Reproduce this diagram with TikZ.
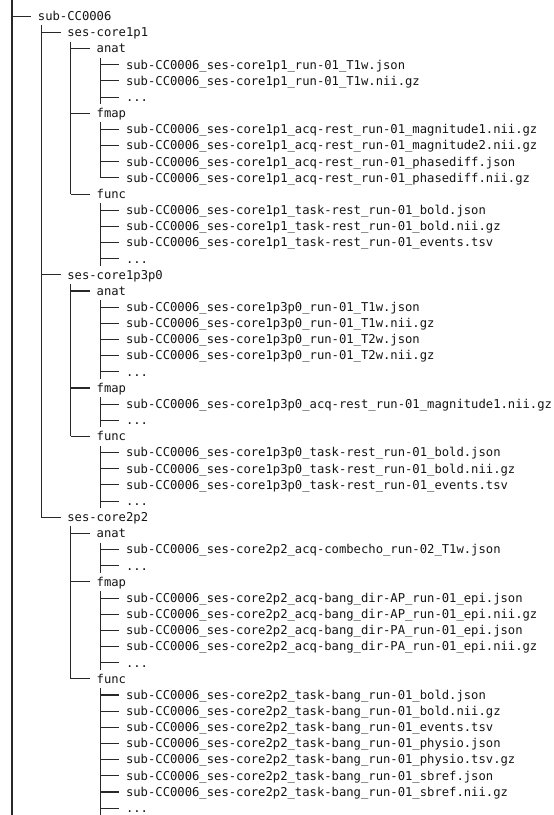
\documentclass[tikz,border=0pt]{standalone}
\usepackage{fontspec}
\setmonofont{DejaVu Sans Mono}
\usetikzlibrary{calc}
\definecolor{cLine}{RGB}{40,40,40}
\definecolor{cText}{RGB}{20,20,20}
\tikzset{
	entry/.style ={anchor=base west, inner sep=0pt, text=cText, font=\ttfamily\fontsize{9.15}{11}\selectfont},
	branch/.style={draw=cLine, line width=0.8pt},
}
% one line of the listing: name, depth, line number, text
\newcommand{\fentry}[4]{\node[entry] (#1) at ({37.7+29.36*#2},{20.6+16.16*(#3-1)}) {#4};}

\begin{document}
\begin{tikzpicture}[x=0.75pt, y=-0.75pt]
	\useasboundingbox (0,0) rectangle (554,815);
	\fentry{sub}{0}{1}{sub-CC0006}
	% ses-core1p1
	\fentry{s1}{1}{2}{ses-core1p1}
	\fentry{s1anat}{2}{3}{anat}
	\fentry{s1a1}{3}{4}{sub-CC0006\_ses-core1p1\_run-01\_T1w.json}
	\fentry{s1a2}{3}{5}{sub-CC0006\_ses-core1p1\_run-01\_T1w.nii.gz}
	\fentry{s1ad}{3}{6}{...}
	\fentry{s1fmap}{2}{7}{fmap}
	\fentry{s1f1}{3}{8}{sub-CC0006\_ses-core1p1\_acq-rest\_run-01\_magnitude1.nii.gz}
	\fentry{s1f2}{3}{9}{sub-CC0006\_ses-core1p1\_acq-rest\_run-01\_magnitude2.nii.gz}
	\fentry{s1f3}{3}{10}{sub-CC0006\_ses-core1p1\_acq-rest\_run-01\_phasediff.json}
	\fentry{s1f4}{3}{11}{sub-CC0006\_ses-core1p1\_acq-rest\_run-01\_phasediff.nii.gz}
	\fentry{s1func}{2}{12}{func}
	\fentry{s1u1}{3}{13}{sub-CC0006\_ses-core1p1\_task-rest\_run-01\_bold.json}
	\fentry{s1u2}{3}{14}{sub-CC0006\_ses-core1p1\_task-rest\_run-01\_bold.nii.gz}
	\fentry{s1u3}{3}{15}{sub-CC0006\_ses-core1p1\_task-rest\_run-01\_events.tsv}
	\fentry{s1ud}{3}{16}{...}
	% ses-core1p3p0
	\fentry{s2}{1}{17}{ses-core1p3p0}
	\fentry{s2anat}{2}{18}{anat}
	\fentry{s2a1}{3}{19}{sub-CC0006\_ses-core1p3p0\_run-01\_T1w.json}
	\fentry{s2a2}{3}{20}{sub-CC0006\_ses-core1p3p0\_run-01\_T1w.nii.gz}
	\fentry{s2a3}{3}{21}{sub-CC0006\_ses-core1p3p0\_run-01\_T2w.json}
	\fentry{s2a4}{3}{22}{sub-CC0006\_ses-core1p3p0\_run-01\_T2w.nii.gz}
	\fentry{s2ad}{3}{23}{...}
	\fentry{s2fmap}{2}{24}{fmap}
	\fentry{s2f1}{3}{25}{sub-CC0006\_ses-core1p3p0\_acq-rest\_run-01\_magnitude1.nii.gz}
	\fentry{s2fd}{3}{26}{...}
	\fentry{s2func}{2}{27}{func}
	\fentry{s2u1}{3}{28}{sub-CC0006\_ses-core1p3p0\_task-rest\_run-01\_bold.json}
	\fentry{s2u2}{3}{29}{sub-CC0006\_ses-core1p3p0\_task-rest\_run-01\_bold.nii.gz}
	\fentry{s2u3}{3}{30}{sub-CC0006\_ses-core1p3p0\_task-rest\_run-01\_events.tsv}
	\fentry{s2ud}{3}{31}{...}
	% ses-core2p2
	\fentry{s3}{1}{32}{ses-core2p2}
	\fentry{s3anat}{2}{33}{anat}
	\fentry{s3a1}{3}{34}{sub-CC0006\_ses-core2p2\_acq-combecho\_run-02\_T1w.json}
	\fentry{s3ad}{3}{35}{...}
	\fentry{s3fmap}{2}{36}{fmap}
	\fentry{s3f1}{3}{37}{sub-CC0006\_ses-core2p2\_acq-bang\_dir-AP\_run-01\_epi.json}
	\fentry{s3f2}{3}{38}{sub-CC0006\_ses-core2p2\_acq-bang\_dir-AP\_run-01\_epi.nii.gz}
	\fentry{s3f3}{3}{39}{sub-CC0006\_ses-core2p2\_acq-bang\_dir-PA\_run-01\_epi.json}
	\fentry{s3f4}{3}{40}{sub-CC0006\_ses-core2p2\_acq-bang\_dir-PA\_run-01\_epi.nii.gz}
	\fentry{s3fd}{3}{41}{...}
	\fentry{s3func}{2}{42}{func}
	\fentry{s3u1}{3}{43}{sub-CC0006\_ses-core2p2\_task-bang\_run-01\_bold.json}
	\fentry{s3u2}{3}{44}{sub-CC0006\_ses-core2p2\_task-bang\_run-01\_bold.nii.gz}
	\fentry{s3u3}{3}{45}{sub-CC0006\_ses-core2p2\_task-bang\_run-01\_events.tsv}
	\fentry{s3u4}{3}{46}{sub-CC0006\_ses-core2p2\_task-bang\_run-01\_physio.json}
	\fentry{s3u5}{3}{47}{sub-CC0006\_ses-core2p2\_task-bang\_run-01\_physio.tsv.gz}
	\fentry{s3u6}{3}{48}{sub-CC0006\_ses-core2p2\_task-bang\_run-01\_sbref.json}
	\fentry{s3u7}{3}{49}{sub-CC0006\_ses-core2p2\_task-bang\_run-01\_sbref.nii.gz}
	\fentry{s3ud}{3}{50}{...}
	% tree lines
	\coordinate (top) at (12,0); \coordinate (bot) at (12,815);
	\draw[branch] (top) -- (bot);
	\foreach \n in {sub,s1,s1anat,s1a1,s1a2,s1ad,s1fmap,s1f1,s1f2,s1f3,s1f4,s1func,s1u1,s1u2,s1u3,s1ud,
		s2,s2anat,s2a1,s2a2,s2a3,s2a4,s2ad,s2fmap,s2f1,s2fd,s2func,s2u1,s2u2,s2u3,s2ud,
		s3,s3anat,s3a1,s3ad,s3fmap,s3f1,s3f2,s3f3,s3f4,s3fd,s3func,s3u1,s3u2,s3u3,s3u4,s3u5,s3u6,s3u7,s3ud}
		\draw[branch] ($(\n.base west)+(-25.7,-4.3)$) -- ($(\n.base west)+(-6.5,-4.3)$);
	\foreach \p/\l/\e in {sub/s3/-4.3, s1/s1func/-4.3, s1anat/s1ad/2.7, s1fmap/s1f4/-4.3, s1func/s1ud/2.7,
		s2/s2func/-4.3, s2anat/s2ad/2.7, s2fmap/s2fd/2.7, s2func/s2ud/2.7,
		s3/s3func/-4.3, s3anat/s3ad/2.7, s3fmap/s3fd/2.7, s3func/s3ud/2.7}
		\draw[branch] ($(\p.base west)+(3.7,4.8)$) -- ($(\p.base west |- \l.base west)+(3.7,\e)$);
\end{tikzpicture}
\end{document}
